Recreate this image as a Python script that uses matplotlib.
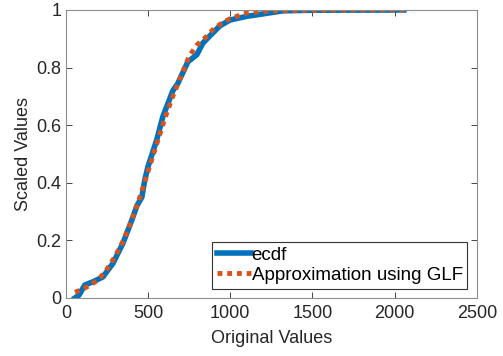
import numpy as np
import matplotlib
matplotlib.use("Agg")
import matplotlib.pyplot as plt

plt.rcParams['font.family'] = ['Liberation Sans', 'DejaVu Sans']

ecdf_x = [55, 80, 115, 164, 225, 286, 347, 401, 432, 462, 480, 499, 553, 590,
          651, 681, 742, 797, 833, 876, 937, 998, 1101, 1241, 1320, 1500, 2056]
ecdf_y = [0, 0.01, 0.045, 0.056, 0.073, 0.12, 0.19, 0.27, 0.32, 0.35, 0.41, 0.455,
          0.55, 0.63, 0.72, 0.745, 0.82, 0.845, 0.885, 0.91, 0.945, 0.965, 0.978,
          0.99, 0.997, 0.999, 1.0]

# GLF approximation
glf_x = [55, 100, 150, 200, 250, 300, 350, 400, 450, 500, 550, 600, 650, 700,
         750, 800, 850, 900, 950, 1000, 1100, 1250, 1500, 1750, 2056]
glf_y = [0.02, 0.03, 0.045, 0.065, 0.1, 0.145, 0.2, 0.27, 0.35, 0.44, 0.53, 0.62,
         0.7, 0.77, 0.84, 0.88, 0.905, 0.935, 0.955, 0.97, 0.99, 0.997, 0.999,
         1.0, 1.0]

xticks = [0, 500, 1000, 1500, 2000, 2500]
yticks = [0, 0.2, 0.4, 0.6, 0.8, 1]

fig = plt.figure(figsize=(5.03, 3.56), dpi=100)
ax = fig.add_axes([0.131, 0.163, 0.817, 0.809])

ax.plot(ecdf_x, ecdf_y, color='#0072BD', lw=4, label='ecdf')
ax.plot(glf_x, glf_y, color='#D95319', lw=3.5, ls=(0, (1, 1)),
        label='Approximation using GLF')

ax.set_xlim(0, 2500)
ax.set_ylim(0, 1)
ax.set_xticks(xticks)
ax.set_yticks(yticks)
ax.set_yticklabels(['0', '0.2', '0.4', '0.6', '0.8', '1'])
ax.tick_params(direction='in', top=True, right=True, labelsize=13,
               colors='#262626', length=4, width=0.6, pad=3)
ax.tick_params(axis='x', pad=5)
for s in ax.spines.values():
    s.set_color('#8c8c8c')
    s.set_linewidth(0.8)
ax.set_xlabel('Original Values', fontsize=13, color='#262626', labelpad=6)
ax.set_ylabel('Scaled Values', fontsize=13, color='#262626', labelpad=3)

leg = ax.legend(loc='lower right', fontsize=13.5, handlelength=1.8,
                fancybox=False, framealpha=1, borderpad=0.25,
                handletextpad=0.05, labelspacing=0.15, borderaxespad=0.5)
leg.get_frame().set_edgecolor('#333333')
leg.get_frame().set_linewidth(0.8)

fig.savefig('out.png', dpi=100)
